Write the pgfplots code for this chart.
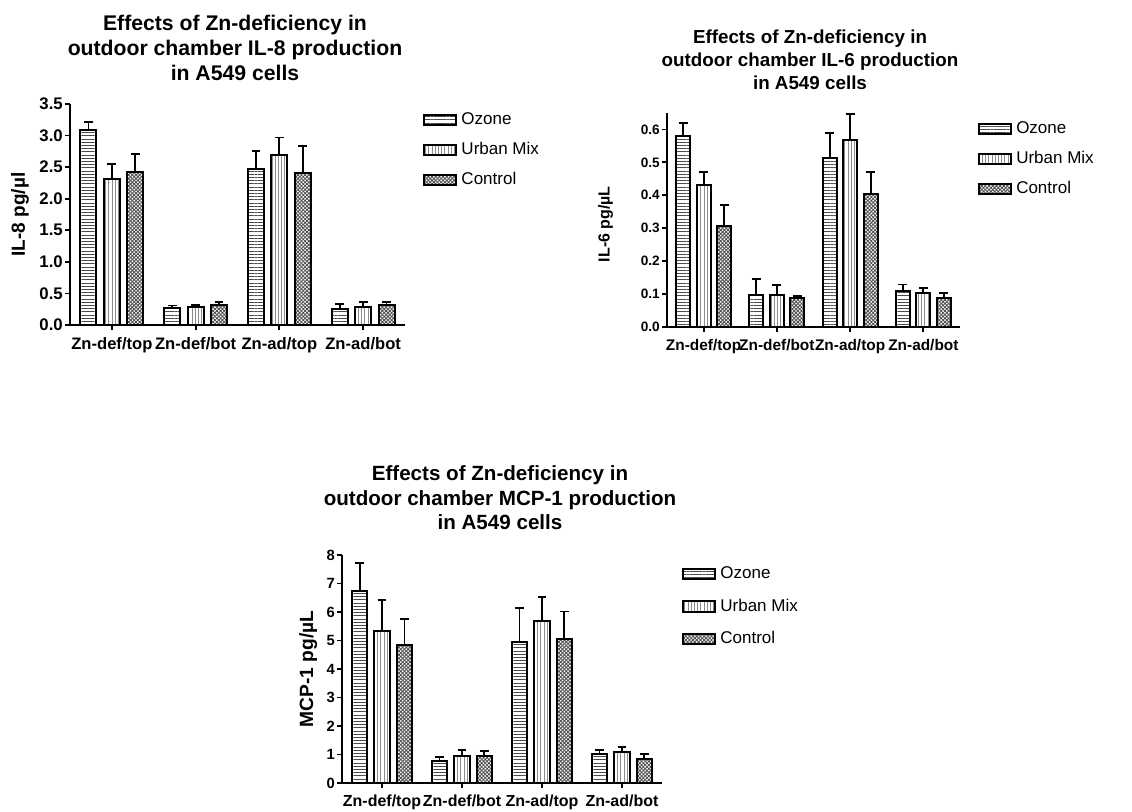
\documentclass[border=0pt]{standalone}
\usepackage{fontspec}
\setmainfont{Liberation Sans}
\usepackage{pgfplots}
\usepackage{pgfplotstable}
\pgfplotsset{compat=1.18}
\usetikzlibrary{patterns.meta}

% group, ozone, err, urban mix, err, control, err
\pgfplotstableread{
x oz oze um ume ct cte
0 3.09 0.13 2.32 0.23 2.42 0.29
1 0.27 0.04 0.28 0.04 0.31 0.06
2 2.47 0.28 2.69 0.28 2.40 0.44
3 0.25 0.08 0.29 0.08 0.31 0.06
}\ileight
\pgfplotstableread{
x oz oze um ume ct cte
0 0.580 0.040 0.430 0.040 0.307 0.064
1 0.097 0.048 0.097 0.030 0.088 0.007
2 0.512 0.078 0.568 0.080 0.404 0.066
3 0.109 0.020 0.104 0.015 0.088 0.016
}\ilsix
\pgfplotstableread{
x oz oze um ume ct cte
0 6.74 0.99 5.34 1.09 4.85 0.91
1 0.76 0.14 0.96 0.21 0.96 0.15
2 4.94 1.19 5.67 0.87 5.05 0.97
3 1.02 0.15 1.09 0.17 0.84 0.18
}\mcp

\pgfplotsset{
  panel/.style={
    scale only axis, anchor=south west,
    axis x line*=bottom, axis y line*=left,
    axis line style={line width=1.1pt, -},
    tick style={line width=0.9pt, black},
    major tick length=2.6pt, tick align=outside,
    xmin=-0.5, xmax=3.5, ymin=0, enlargelimits=false,
    xtick={0,1,2,3},
    xticklabels={Zn-def/top,Zn-def/bot,Zn-ad/top,Zn-ad/bot},
    yticklabel style={inner sep=0.8pt},
    /pgf/number format/assume math mode=true,
    ybar, bar width=0.19,
    legend cell align=left,
    legend image code/.code={\draw[##1] (0pt,-2.6pt) rectangle (16pt,2.6pt);},
    legend style={draw=none, fill=none, inner sep=0pt, row sep=3.4pt,
      font=\fontsize{8.5}{9}\selectfont, anchor=north west},
  },
  errs/.style={error bars/.cd, y dir=plus, y explicit,
    error bar style={line width=0.9pt, black},
    error mark options={rotate=90, black, mark size=2.2pt, line width=0.9pt}},
  ozone/.style={draw=black, line width=1pt, bar shift=-0.28,
    pattern={Lines[angle=0,distance=1.6pt,line width=0.45pt]}, pattern color=black!70},
  urban/.style={draw=black, line width=1pt, bar shift=0,
    pattern={Lines[angle=90,distance=1.6pt,line width=0.4pt]}, pattern color=black!45},
  control/.style={draw=black, line width=1pt, bar shift=0.28,
    pattern={Hatch[angle=45,distance=1.3pt,line width=0.45pt]}, pattern color=black!68},
}

\begin{document}
\begin{tikzpicture}
\useasboundingbox (0,0) rectangle (566pt,405.5pt);

% ---- IL-8 ----
\node[align=center, font=\fontsize{10.6}{12.3}\selectfont\bfseries] at (117.5pt,381.5pt)
  {Effects of Zn-deficiency in\\outdoor chamber IL-8 production\\in A549 cells};
\begin{axis}[panel, at={(35pt,243pt)}, width=167.5pt, height=110.5pt,
  ymax=3.5, ytick={0,0.5,1,1.5,2,2.5,3,3.5},
  yticklabels={0.0,0.5,1.0,1.5,2.0,2.5,3.0,3.5},
  yticklabel style={font=\fontsize{8.4}{9}\selectfont\bfseries},
  xticklabel style={font=\fontsize{8.3}{9}\selectfont\bfseries},
  ylabel={IL-8 pg/µl},
  ylabel style={font=\fontsize{9.5}{10}\selectfont\bfseries,
    at={(axis description cs:-0.149,0.5)}, anchor=center},
  legend style={at={(axis description cs:1.054,0.98)}}]
\addplot[ozone, errs] table[x=x, y=oz, y error=oze] {\ileight};
\addplot[urban, errs] table[x=x, y=um, y error=ume] {\ileight};
\addplot[control, errs] table[x=x, y=ct, y error=cte] {\ileight};
\legend{Ozone, Urban Mix, Control}
\end{axis}

% ---- IL-6 ----
\node[align=center, font=\fontsize{9.4}{11.5}\selectfont\bfseries] at (405pt,375.5pt)
  {Effects of Zn-deficiency in\\outdoor chamber IL-6 production\\in A549 cells};
\begin{axis}[panel, at={(333.5pt,242pt)}, width=146.5pt, height=107pt,
  ymax=0.65, ytick={0,0.1,0.2,0.3,0.4,0.5,0.6},
  yticklabels={0.0,0.1,0.2,0.3,0.4,0.5,0.6},
  yticklabel style={font=\fontsize{6.8}{7}\selectfont\bfseries},
  xticklabel style={font=\fontsize{7.7}{8}\selectfont\bfseries},
  ylabel={IL-6 pg/µL},
  ylabel style={font=\fontsize{8}{9}\selectfont\bfseries,
    at={(axis description cs:-0.21,0.48)}, anchor=center},
  legend style={at={(axis description cs:1.061,0.98)}}]
\addplot[ozone, errs] table[x=x, y=oz, y error=oze] {\ilsix};
\addplot[urban, errs] table[x=x, y=um, y error=ume] {\ilsix};
\addplot[control, errs] table[x=x, y=ct, y error=cte] {\ilsix};
\legend{Ozone, Urban Mix, Control}
\end{axis}

% ---- MCP-1 ----
\node[align=center, font=\fontsize{10.3}{12.2}\selectfont\bfseries] at (250pt,156.5pt)
  {Effects of Zn-deficiency in\\outdoor chamber MCP-1 production\\in A549 cells};
\begin{axis}[panel, at={(171pt,14pt)}, width=160pt, height=114pt,
  ymax=8, ytick={0,1,...,8},
  yticklabel style={font=\fontsize{7.4}{8}\selectfont\bfseries},
  xticklabel style={font=\fontsize{8}{9}\selectfont\bfseries},
  ylabel={MCP-1 pg/µL},
  ylabel style={font=\fontsize{9.6}{10}\selectfont\bfseries,
    at={(axis description cs:-0.106,0.5)}, anchor=center},
  legend style={at={(axis description cs:1.0625,0.968)}, row sep=4.6pt}]
\addplot[ozone, errs] table[x=x, y=oz, y error=oze] {\mcp};
\addplot[urban, errs] table[x=x, y=um, y error=ume] {\mcp};
\addplot[control, errs] table[x=x, y=ct, y error=cte] {\mcp};
\legend{Ozone, Urban Mix, Control}
\end{axis}
\end{tikzpicture}
\end{document}
